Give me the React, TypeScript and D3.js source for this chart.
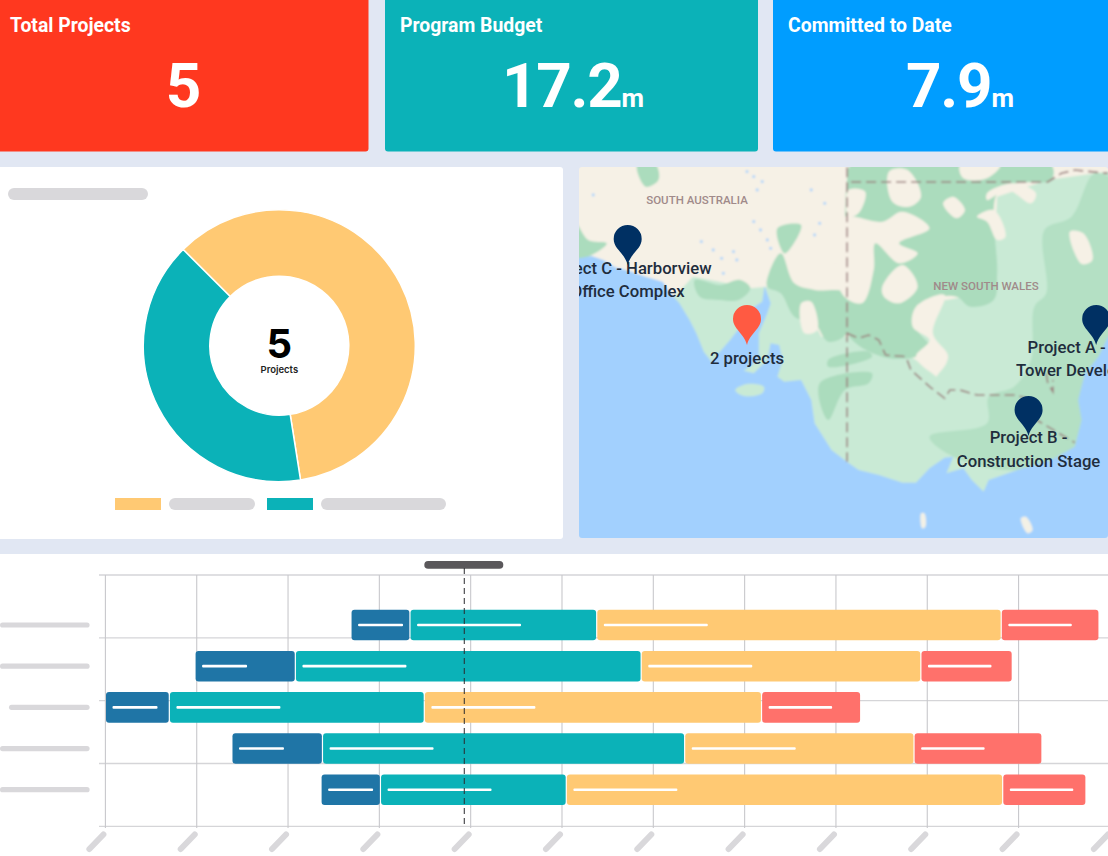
import * as d3 from "d3";

const bg = "#e1e7f3";
const teal = "#0bb2b8";
const gold = "#ffc973";
const coral = "#ff716b";
const steel = "#1f75a6";
const skeleton = "#d9d8db";

// top cards
const cardTitles = ["Total Projects", "Program Budget", "Committed to Date"];
const cardValues = ["5", "17.2", "7.9"];
const cardUnits = ["", "m", "m"];
const cardColors = ["#ff381f", teal, "#009dff"];

// donut
const donutValues = [3, 2];
const donutColors = [gold, teal];

// gantt, phase boundaries in months from the first gridline
const ganttRows = ["a", "b", "c", "d", "e"];
const row1 = [2.7, 3.335, 5.38, 9.81, 10.87];
const row2 = [0.992, 2.08, 5.867, 8.93, 9.92];
const row3 = [0.011, 0.7, 3.492, 7.185, 8.26];
const row4 = [1.396, 2.377, 6.343, 8.855, 10.245];
const row5 = [2.372, 3.012, 5.047, 9.826, 10.727];
const ganttData = [row1, row2, row3, row4, row5];
const phaseColors = [steel, teal, gold, coral];
const phaseLabelLen = [45, 104, 104, 63.5];
const labelStarts = [0, 0, 9, 0, 0];
const monthTicks = d3.range(0, 12);
const gridRows = [0, 1, 2, 3, 4];
const todayMonth = 3.93;

// map outlines, in map grid units
const coast = [[5,295],[40,288],[75,300],[110,322],[150,332],[200,350],[250,365],[278,405],[300,430],[330,480],[350,520],[372,575],[395,605],[420,575],[450,540],[480,500],[515,445],[545,425],[552,378],[570,430],[560,460],[535,520],[535,600],[490,632],[520,640],[560,600],[570,550],[595,555],[605,600],[590,650],[610,665],[660,660],[690,720],[700,790],[750,870],[795,905],[830,930],[890,945],[960,968],[1000,968],[1040,925],[1085,893],[1110,890],[1090,940],[1140,925],[1165,960],[1200,995],[1215,960],[1300,930],[1400,900],[1470,860],[1490,780],[1480,720],[1500,640],[1540,590],[1568,530],[1600,530],[1600,1200],[-30,1200],[-30,295]];
const lightGreen = [[280,415],[340,350],[420,365],[510,385],[560,380],[600,300],[650,400],[720,530],[796,530],[860,525],[1000,600],[1060,650],[1090,610],[1000,560],[1000,470],[1040,420],[1090,420],[1200,400],[1230,310],[1240,110],[1390,60],[1530,40],[1620,30],[1620,1000],[200,1000]];
const midGreens = [
  [[175,15],[230,15],[238,60],[200,80]],
  [[-10,185],[30,240],[85,250],[50,280],[-10,300]],
  [[590,205],[660,195],[625,270],[610,280]],
  [[345,360],[420,375],[480,360],[510,385],[475,420],[420,420],[360,410]],
  [[565,340],[600,280],[640,370],[700,390],[796,400],[796,520],[740,545],[700,490],[640,470],[600,400],[560,380]],
  [[808,15],[1400,15],[1400,60],[1300,70],[1240,100],[1240,340],[1230,420],[1160,440],[1120,410],[1050,420],[1000,500],[1040,560],[1000,590],[900,590],[796,520],[790,300],[796,60]],
  [[740,600],[860,575],[870,590],[740,620]],
  [[715,670],[870,640],[860,670],[790,690],[740,780]],
];
const eastGreen = [[1530,40],[1460,170],[1380,210],[1385,400],[1350,440],[1340,600],[1290,680],[1215,710],[1210,790],[1040,830],[1110,890],[1300,930],[1480,860],[1620,500],[1620,100]];
const beigeBlobs = [
  [[920,35],[975,30],[1015,110],[980,140],[930,125]],
  [[1130,15],[1250,15],[1210,55],[1140,55]],
  [[1210,100],[1290,70],[1355,100],[1340,130],[1270,90],[1210,120]],
  [[1080,130],[1110,110],[1145,150],[1120,175]],
  [[1180,170],[1230,150],[1265,230],[1240,240],[1210,185]],
  [[800,90],[850,95],[830,160],[800,170]],
  [[780,175],[900,185],[960,155],[1040,205],[950,250],[1005,280],[950,310],[880,250],[875,330],[840,430],[780,400]],
  [[900,380],[960,315],[1005,380],[950,430],[905,410]],
  [[1000,440],[1085,405],[1050,520],[1095,590],[1060,640],[1000,590],[1040,540],[990,500]],
  [[660,430],[690,425],[708,510],[670,520]],
  [[1455,215],[1495,220],[1522,300],[1490,312]],
];
const kangaroo = [[465,690],[500,672],[550,680],[545,700],[490,708]];
const whiteIslands = [
  [[1015,1060],[1025,1060],[1028,1100],[1018,1105]],
  [[1310,1075],[1325,1070],[1345,1110],[1330,1120]],
];
const lakes = [[500,35],[520,50],[545,65],[530,90],[690,90],[730,130],[520,185],[540,210],[560,240],[570,265],[715,190],[700,225],[365,245],[400,270],[425,295],[460,275],[470,300],[430,340],[45,105]];
const borderLines = [
  [[796,22],[796,905]],
  [[808,66],[1390,66],[1430,40],[1470,30],[1568,40]],
  [[796,520],[830,535],[860,525],[890,540],[910,585],[970,590],[985,630],[1040,680],[1085,715],[1100,690],[1130,690],[1180,705],[1290,705],[1330,715],[1340,770],[1390,800],[1470,848]],
  [[1385,640],[1390,670],[1405,695],[1405,660]],
];
const pinTips = [[147,315],[500,555],[1333,828],[1533,555]];
const pinColors = ["#003063", "#ff5a42", "#003063", "#003063"];
const mapLabels = [
  { text: "Project C - Harborview", at: [147, 343], anchor: "middle" },
  { text: "Office Complex", at: [147, 411], anchor: "middle" },
  { text: "2 projects", at: [500, 612], anchor: "middle" },
  { text: "Project A -", at: [1330, 578], anchor: "start" },
  { text: "Tower Development", at: [1296, 648], anchor: "start" },
  { text: "Project B -", at: [1333, 850], anchor: "middle" },
  { text: "Construction Stage", at: [1333, 920], anchor: "middle" },
];

const width = 1108;
const height = 856;

const mapX = d3.scaleLinear().domain([0, 1568]).range([578, 1108]);
const mapY = d3.scaleLinear().domain([0, 1155]).range([160, 545]);
const mapLine = d3
  .line<number[]>()
  .x((d) => mapX(d[0]))
  .y((d) => mapY(d[1]));
const blobLine = d3
  .line<number[]>()
  .curve(d3.curveCatmullRomClosed.alpha(0.5))
  .x((d) => mapX(d[0]))
  .y((d) => mapY(d[1]));
const mapPoly = (pts: number[][]) => mapLine(pts) + "Z";

const pinPath = (tip: number[]) => {
  const x = mapX(tip[0]);
  const y = mapY(tip[1]);
  const r = 14;
  const cy = y - 40 + r;
  const p = d3.path();
  p.moveTo(x, y);
  p.bezierCurveTo(x - 3, y - 12, x - r, y - 16, x - r, cy);
  p.arc(x, cy, r, Math.PI, 0);
  p.bezierCurveTo(x + r, y - 16, x + 3, y - 12, x, y);
  p.closePath();
  return p.toString();
};

const ganttX = d3.scaleLinear().domain([0, 11]).range([105.4, 1109.9]);
const ganttY = d3.scaleBand().domain(ganttRows).range([609.7, 805]).paddingInner(0.258);
const gridY = d3.scaleLinear().domain([0, 4]).range([575, 826.3]);

const pie = d3
  .pie<number>()
  .sort(null)
  .startAngle((-45 * Math.PI) / 180)
  .endAngle((315 * Math.PI) / 180);
const arc = d3.arc<d3.PieArcDatum<number>>().innerRadius(69.5).outerRadius(136);

const cardBoxes = [
  [-6, 374.5],
  [385, 373],
  [773, 341],
];
const valueCenters = [183, 573, 960];

export default function App() {
  return (
    <svg
      width={width}
      height={height}
      style={{ position: "absolute", left: 0, top: 0, display: "block", background: bg }}
      fontFamily="Roboto, sans-serif"
    >
      <defs>
        <filter id="soft" x="-2%" y="-2%" width="104%" height="104%">
          <feGaussianBlur stdDeviation="0.8" />
        </filter>
        <clipPath id="mapClip">
          <rect x={579} y={167} width={529} height={371} rx={3} />
        </clipPath>
      </defs>

      {cardTitles.map((t, i) => (
        <g key={t}>
          <rect x={cardBoxes[i][0]} y={-6} width={cardBoxes[i][1]} height={157.5} rx={3} fill={cardColors[i]} />
          <text x={cardBoxes[i][0] + (i === 0 ? 16 : 15)} y={32} fill="#fff" fontSize={19.4} fontWeight={700}>
            {t}
          </text>
          <text x={valueCenters[i]} y={107} fill="#fff" fontWeight={700} fontSize={62} textAnchor="middle" letterSpacing={-1.25}>
            {cardValues[i]}
            <tspan fontSize={26} letterSpacing={0}>{cardUnits[i]}</tspan>
          </text>
        </g>
      ))}

      <rect x={-6} y={167} width={569} height={372} rx={3} fill="#fff" />
      <rect x={8} y={188} width={140} height={12} rx={6} fill={skeleton} />
      <g transform="translate(279.3,345.7)">
        {pie(donutValues).map((d, i) => (
          <path key={i} d={arc(d) ?? ""} fill={donutColors[i]} stroke="#fff" strokeWidth={1.5} />
        ))}
        <text y={12} textAnchor="middle" fontSize={40} fontWeight={700} fill="#000" fontFamily="Inter, sans-serif">
          {donutValues[0] + donutValues[1]}
        </text>
        <text y={27.5} textAnchor="middle" fontSize={9.5} fontWeight={600} fill="#222" fontFamily="Inter, sans-serif">
          Projects
        </text>
      </g>
      <rect x={115} y={498} width={46} height={12} fill={gold} />
      <rect x={169} y={498} width={86} height={12} rx={6} fill={skeleton} />
      <rect x={267} y={498} width={46} height={12} fill={teal} />
      <rect x={321} y={498} width={125} height={12} rx={6} fill={skeleton} />

      <g clipPath="url(#mapClip)">
        <g filter="url(#soft)">
          <rect x={575} y={160} width={540} height={385} fill="#f6f1e6" />
          <path d={mapPoly(lightGreen)} fill="#c9ead5" />
          {midGreens.map((p, i) => (
            <path key={i} d={blobLine(p) ?? ""} fill="#abdcbd" />
          ))}
          <path d={blobLine(eastGreen) ?? ""} fill="#b4e0c4" />
          {beigeBlobs.map((p, i) => (
            <path key={i} d={blobLine(p) ?? ""} fill="#f6f1e6" />
          ))}
          <path d={mapPoly(coast)} fill="#a2d0fe" />
          <path d={blobLine(kangaroo) ?? ""} fill="#c9ead5" />
          {whiteIslands.map((p, i) => (
            <path key={i} d={blobLine(p) ?? ""} fill="#f3f1e6" />
          ))}
          {lakes.map((d, i) => (
            <circle key={i} cx={mapX(d[0])} cy={mapY(d[1])} r={1.4} fill="#a2d0fe" />
          ))}
          {borderLines.map((p, i) => (
            <path key={i} d={mapLine(p) ?? ""} fill="none" stroke="#9b7d7c" strokeWidth={1.6} strokeDasharray="10 5" />
          ))}
        </g>
        <text x={697} y={204} textAnchor="middle" fontSize={11.5} fontWeight={500} fill="#a08a8a">
          SOUTH AUSTRALIA
        </text>
        <text x={986} y={290} textAnchor="middle" fontSize={11.5} fontWeight={500} fill="#a08a8a">
          NEW SOUTH WALES
        </text>
        {pinTips.map((t, i) => (
          <path key={i} d={pinPath(t)} fill={pinColors[i]} />
        ))}
        {mapLabels.map((l) => (
          <text
            key={l.text}
            x={mapX(l.at[0])}
            y={mapY(l.at[1])}
            textAnchor={l.anchor as "middle" | "start"}
            fontSize={16.7}
            fontWeight={500}
            fill="#1f2d3d"
          >
            {l.text}
          </text>
        ))}
      </g>

      <rect x={-6} y={554} width={width + 12} height={310} fill="#fff" />
      <rect x={424.3} y={561} width={79} height={7.7} rx={3.8} fill="#5a585b" />
      {gridRows.map((r) => (
        <line key={r} x1={99} x2={width} y1={gridY(r)} y2={gridY(r)} stroke="#d5d5d8" strokeWidth={1.3} />
      ))}
      {monthTicks.map((m) => (
        <g key={m}>
          <line x1={ganttX(m)} x2={ganttX(m)} y1={575} y2={828} stroke="#c8c8cc" strokeWidth={1.1} />
          <line
            x1={ganttX(m) - 16}
            x2={ganttX(m) - 2}
            y1={849}
            y2={834.5}
            stroke={skeleton}
            strokeWidth={6}
            strokeLinecap="round"
          />
        </g>
      ))}
      {ganttData.map((bounds, r) => {
        const y = ganttY(ganttRows[r]) ?? 0;
        const bh = ganttY.bandwidth();
        return (
          <g key={r}>
            <rect
              x={labelStarts[r]}
              y={y + bh / 2 - 2.6}
              width={89.6 - labelStarts[r]}
              height={5.2}
              rx={2.6}
              fill={skeleton}
            />
            {phaseColors.map((c, i) => {
              const x0 = ganttX(bounds[i]) + (i === 0 ? -0.4 : 0.6);
              const x1 = ganttX(bounds[i + 1]) - (i === 3 ? -0.4 : 0.6);
              return (
                <g key={i}>
                  <rect x={x0} y={y} width={x1 - x0} height={bh} rx={3} fill={c} />
                  <rect x={x0 + 6.5} y={y + bh / 2 - 1.3} width={phaseLabelLen[i]} height={2.6} rx={1} fill="#fff" />
                </g>
              );
            })}
          </g>
        );
      })}
      <line
        x1={ganttX(todayMonth)}
        x2={ganttX(todayMonth)}
        y1={568}
        y2={827}
        stroke="#2a2a2e"
        strokeWidth={1}
        strokeDasharray="6 4"
      />
    </svg>
  );
}
